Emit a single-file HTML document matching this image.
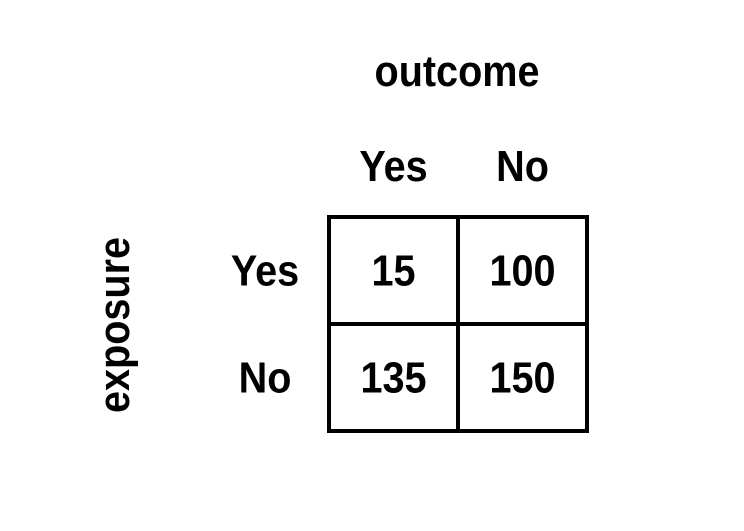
<!DOCTYPE html>
<html><head><meta charset="utf-8"><style>
html,body{margin:0;padding:0;background:#fff;}
svg text{font-family:"Liberation Sans Narrow","Liberation Sans",sans-serif;font-weight:bold;fill:#000;}
</style></head><body>
<svg id="chart" width="744" height="526" viewBox="0 0 744 526">
<text x="0" y="0" font-size="44" text-anchor="middle" dominant-baseline="central" transform="translate(457,71) scale(0.9,1)">outcome</text>
<text x="0" y="0" font-size="44" text-anchor="middle" dominant-baseline="central" transform="translate(114,325) rotate(-90) scale(0.9,1)">exposure</text>
<g id="grid"></g>
</svg>
<script>
const colLabels = ["Yes", "No"];
const rowLabels = ["Yes", "No"];
const row1Values = [15, 100];
const row2Values = [135, 150];
const ns = "http://www.w3.org/2000/svg";
const g = document.getElementById('grid');
const x0 = 329, y0 = 217, cw = 129, ch = 107;
function colX(i){return x0 + cw*i + cw/2;}
function rowY(j){return y0 + ch*j + ch/2;}
function txt(x,y,s){const t=document.createElementNS(ns,'text');t.setAttribute('x',0);t.setAttribute('y',0);t.setAttribute('transform','translate('+x+','+y+') scale(0.9,1)');t.setAttribute('font-size','44');t.setAttribute('text-anchor','middle');t.setAttribute('dominant-baseline','central');t.textContent=s;g.appendChild(t);return t;}
const values = [row1Values, row2Values];
colLabels.forEach((c,i)=>{
  const t = txt(colX(i), 166, c);
  
  
});
rowLabels.forEach((r,j)=>{
  const t = txt(265, rowY(j), r);
  
  
});
const frame = document.createElementNS(ns,'rect');
frame.setAttribute('x', x0); frame.setAttribute('y', y0);
frame.setAttribute('width', cw*colLabels.length); frame.setAttribute('height', ch*rowLabels.length);
frame.setAttribute('fill','none'); frame.setAttribute('stroke','#000'); frame.setAttribute('stroke-width','4');


g.appendChild(frame);
const vl = document.createElementNS(ns,'line');
vl.setAttribute('x1', x0+cw); vl.setAttribute('x2', x0+cw); vl.setAttribute('y1', y0); vl.setAttribute('y2', y0+ch*2);
vl.setAttribute('stroke','#000'); vl.setAttribute('stroke-width','4');


g.appendChild(vl);
const hl = document.createElementNS(ns,'line');
hl.setAttribute('x1', x0); hl.setAttribute('x2', x0+cw*2); hl.setAttribute('y1', y0+ch); hl.setAttribute('y2', y0+ch);
hl.setAttribute('stroke','#000'); hl.setAttribute('stroke-width','4');


g.appendChild(hl);
values.forEach((row,j)=>row.forEach((v,i)=>{
  const t = txt(colX(i), rowY(j), String(v));
  
  
}));
</script>
</body></html>
